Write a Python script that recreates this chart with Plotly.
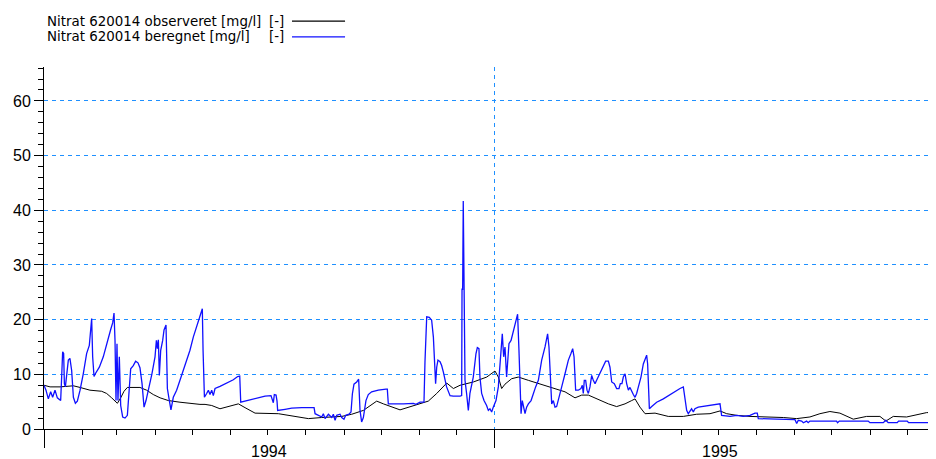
import pandas as pd
import plotly.graph_objects as go

# ---------------- data ----------------
start_date = "1994-01-01"
series_names = ["Nitrat 620014 observeret [mg/l]", "Nitrat 620014 beregnet [mg/l]"]
unit_label = "[-]"
year_labels = ["1994", "1995"]

# observed series: days since 1994-01-01 and concentration (mg/l)
obs_day = [0.0, 4.9, 13.0, 19.7, 23.8, 29.2, 37.2, 46.7, 50.7, 54.8, 59.4, 62.1, 64.8, 67.5, 77.7,
           83.1, 88.5, 94.0, 100.7, 110.1, 120.9, 126.3, 130.4, 135.8, 142.5, 149.3, 157.4, 162.8,
           170.9, 189.8, 203.3, 214.1, 224.9, 241.1, 249.2, 258.6, 269.4, 274.8, 288.3, 301.8,
           311.2, 318.0, 326.1, 331.5, 336.9, 347.7, 358.5, 365.2, 367.9, 370.6, 373.3, 378.7,
           384.1, 392.2, 400.3, 411.1, 421.9, 430.0, 435.4, 440.8, 448.9, 457.0, 463.7, 470.5,
           475.9, 478.6, 482.6, 486.7, 494.8, 505.5, 517.7, 528.5, 539.3, 547.4, 552.8, 560.9,
           571.7, 587.9, 598.7, 609.5, 620.2, 628.3, 636.4, 644.5, 655.3, 666.1, 676.9, 681.7,
           687.7, 698.5, 709.3, 714.7, 722.5]
obs_val = [8.0, 7.7, 7.7, 7.9, 7.9, 7.6, 7.1, 6.9, 6.5, 5.7, 4.7, 5.7, 6.9, 7.6, 7.6,
           7.1, 6.3, 5.7, 5.2, 4.9, 4.6, 4.5, 4.5, 4.3, 3.7, 4.1, 4.6, 3.9,
           2.9, 2.8, 2.3, 1.9, 2.1, 2.3, 2.7, 3.4, 5.1, 4.6, 3.5, 4.5,
           5.1, 6.5, 8.4, 7.4, 8.0, 8.6, 9.5, 10.6, 9.5, 7.4, 8.2, 9.2,
           9.5, 8.9, 8.3, 7.6, 6.8, 5.7, 6.2, 6.2, 5.4, 4.6, 4.1, 4.6,
           5.2, 5.5, 4.0, 2.8, 2.9, 2.3, 2.3, 2.7, 2.8, 3.3, 2.8, 2.5,
           2.3, 2.2, 2.1, 1.9, 2.2, 2.8, 3.2, 2.9, 1.8, 2.3, 2.3, 1.45,
           2.3, 2.2, 2.8, 3.0, 3.0]

# computed series: days since 1994-01-01 and concentration (mg/l)
calc_day = [0.0, 1.6, 3.5, 5.4, 7.0, 8.9, 10.8, 12.4, 13.5, 14.3, 15.1, 15.9, 16.5, 17.3, 18.4,
            19.7, 21.0, 22.4, 23.8, 25.4, 27.0, 29.2, 31.8, 34.5, 36.7, 37.8, 38.6, 39.4, 40.5,
            41.8, 44.8, 48.0, 50.7, 52.4, 54.0, 55.6, 56.7, 57.5, 58.3, 59.1, 59.9, 61.0, 62.1,
            63.7, 65.6, 67.5, 69.1, 70.2, 72.3, 74.2, 76.1, 77.7, 79.4, 81.0, 82.6, 84.7, 87.4,
            89.9, 91.0, 91.8, 92.6, 93.4, 94.5, 96.1, 97.2, 98.8, 99.9, 101.5, 102.8, 104.7,
            107.4, 110.1, 112.8, 115.5, 118.2, 120.9, 123.6, 125.0, 127.2, 128.2, 128.8, 129.9,
            131.7, 133.1, 134.4, 135.8, 137.1, 138.5, 142.5, 147.9, 153.3, 156.8, 158.5, 159.3,
            162.8, 168.2, 173.6, 179.0, 183.8, 185.7, 186.5, 187.9, 188.7, 189.2, 195.2, 200.6,
            208.7, 216.8, 218.7, 219.5, 222.2, 224.9, 226.2, 227.6, 230.3, 233.0, 234.3, 235.7,
            237.0, 239.7, 241.1, 242.9, 244.3, 247.0, 248.6, 249.7, 251.0, 253.2, 254.8, 255.9,
            257.2, 258.6, 260.7, 262.6, 265.3, 270.7, 276.9, 278.0, 278.8, 281.5, 288.3, 291.0,
            299.1, 301.2, 304.5, 307.7, 308.5, 309.9, 312.0, 313.9, 315.3, 316.1, 317.1, 318.0,
            319.0, 320.7, 322.0, 323.4, 326.0, 328.8, 331.4, 336.9, 338.2, 338.5, 339.0, 339.5,
            340.1, 340.9, 342.2, 343.6, 344.9, 347.6, 349.8, 350.9, 352.2, 353.0, 354.4, 356.3,
            358.4, 359.8, 361.1, 362.5, 363.8, 366.0, 367.9, 369.2, 371.1, 372.2, 373.3, 374.6,
            375.5, 376.5, 378.2, 380.0, 381.9, 383.5, 384.6, 385.4, 386.3, 387.3, 388.4, 389.5,
            390.8, 392.2, 394.4, 396.2, 398.1, 400.3, 403.0, 405.7, 407.0, 407.8, 408.9, 409.7,
            410.5, 411.1, 412.4, 413.8, 415.1, 416.5, 419.2, 421.9, 424.6, 426.7, 428.1, 429.2,
            430.5, 432.7, 434.8, 435.9, 436.7, 437.5, 438.6, 439.7, 440.8, 442.1, 443.5, 444.8,
            446.2, 447.5, 450.2, 452.9, 454.8, 457.0, 458.3, 459.7, 461.8, 463.7, 465.6, 466.7,
            468.0, 469.1, 470.5, 471.8, 473.2, 474.5, 475.9, 477.2, 478.6, 479.9, 481.3, 483.4,
            485.3, 486.7, 488.0, 488.8, 489.4, 490.2, 492.1, 494.8, 496.1, 501.5, 506.9, 510.9,
            515.0, 517.7, 519.0, 520.4, 521.7, 523.1, 524.4, 525.8, 527.1, 529.8, 535.2, 540.6,
            544.7, 547.4, 548.7, 555.5, 560.9, 566.3, 571.7, 575.7, 577.6, 578.4, 593.3, 608.1,
            609.5, 610.8, 613.5, 614.9, 617.5, 618.8, 620.2, 641.8, 642.6, 644.0, 667.4, 668.8,
            679.6, 681.7, 683.6, 690.9, 692.0, 699.0, 700.1, 718.7, 719.5, 721.4, 722.5]
calc_val = [8.0, 7.1, 5.5, 6.8, 5.8, 7.1, 5.7, 5.3, 5.2, 9.5, 14.1, 13.8, 8.3, 7.7, 9.5,
            12.6, 12.9, 10.7, 5.8, 4.7, 5.1, 7.1, 10.1, 13.8, 15.3, 19.3, 20.2, 13.2, 9.6,
            10.2, 11.3, 13.2, 15.6, 16.8, 18.2, 19.4, 21.2, 16.2, 5.2, 15.6, 5.2, 13.2, 4.3,
            2.2, 2.0, 2.5, 7.1, 11.0, 11.6, 12.4, 12.1, 11.2, 8.3, 4.0, 5.2, 7.1, 10.1,
            13.2, 16.2, 14.7, 16.3, 9.8, 14.4, 16.2, 18.1, 19.0, 7.4, 5.2, 3.5, 5.8,
            7.1, 8.9, 10.7, 12.6, 14.4, 16.8, 18.7, 19.9, 21.4, 22.0, 14.4, 5.8,
            6.5, 7.1, 6.3, 7.1, 6.1, 7.4, 7.8, 8.4, 9.0, 9.6, 9.7, 4.9,
            5.1, 5.5, 5.7, 6.0, 6.1, 4.8, 6.3, 6.2, 5.1, 3.4, 3.6, 3.8,
            3.9, 4.0, 3.9, 2.8, 2.5, 2.2, 2.8, 1.9, 2.7, 2.1, 2.7, 1.6,
            2.5, 2.7, 2.1, 1.8, 2.5, 2.7, 3.1, 6.4, 8.2, 8.6, 9.1, 3.4,
            1.3, 2.1, 5.2, 6.3, 6.8, 7.1, 7.3, 7.3, 4.6, 4.6, 4.5, 4.6,
            4.7, 4.5, 4.9, 4.9, 12.3, 20.5, 20.4, 19.9, 16.8, 12.3, 8.3, 11.3,
            12.6, 12.3, 11.6, 10.4, 7.7, 6.1, 6.0, 6.0, 6.1, 25.7, 25.4, 41.7,
            19.9, 8.9, 6.5, 3.4, 6.5, 9.5, 13.8, 14.9, 14.7, 9.5, 6.5, 5.2,
            4.3, 3.4, 3.7, 3.1, 4.0, 5.2, 7.7, 11.3, 17.4, 13.2, 15.0, 9.5,
            12.6, 15.6, 16.2, 17.7, 19.3, 21.0, 14.4, 7.1, 2.8, 5.2, 3.9, 2.8,
            4.0, 4.6, 5.2, 6.5, 7.7, 8.9, 12.6, 15.0, 16.2, 17.4, 15.0, 11.3,
            6.5, 4.6, 5.2, 4.0, 4.1, 5.2, 7.7, 10.1, 12.6, 13.8, 14.7, 13.2,
            7.1, 7.1, 7.4, 8.0, 6.5, 8.9, 8.9, 7.1, 6.5, 7.7, 9.8, 8.9,
            8.3, 8.9, 10.1, 11.3, 12.4, 12.4, 11.3, 8.6, 8.3, 7.4, 7.4, 8.3,
            8.3, 9.5, 10.1, 8.3, 7.1, 7.6, 6.8, 6.3, 5.8, 6.5, 7.7, 9.5,
            11.9, 12.9, 13.5, 11.9, 7.7, 3.7, 4.1, 4.6, 4.9, 5.5, 6.3, 6.8,
            7.4, 7.7, 5.9, 3.4, 2.8, 3.3, 3.7, 3.1, 3.7, 4.0, 4.2, 4.4,
            4.6, 4.6, 2.5, 2.3, 2.5, 2.3, 2.5, 2.9, 2.9, 1.9, 1.8, 1.7,
            1.0, 1.6, 1.45, 1.15, 1.45, 1.15, 1.45, 1.45, 1.15, 1.45, 1.45, 1.15,
            1.15, 1.6, 1.15, 1.15, 1.45, 1.45, 1.15, 1.15, 0.8, 1.15, 1.1]

# ---------------- figure ----------------
t0 = pd.Timestamp(start_date)
obs_x = t0 + pd.to_timedelta(obs_day, unit="D")
calc_x = t0 + pd.to_timedelta(calc_day, unit="D")
x_end = t0 + pd.to_timedelta(722.3, unit="D")

GRID = "#1E90FF"
FONT = "Liberation Sans, Arial, sans-serif"
LFONT = "DejaVu Sans, Verdana, sans-serif"

fig = go.Figure()
fig.add_trace(go.Scatter(x=obs_x, y=obs_val, mode="lines", name=series_names[0],
                         line=dict(color="#000000", width=1)))
fig.add_trace(go.Scatter(x=calc_x, y=calc_val, mode="lines", name=series_names[1],
                         line=dict(color="#1010FF", width=1.3)))

# the page body adds an 8px offset; margins compensate for it
fig.update_layout(
    width=928, height=459,
    margin=dict(l=36, r=0, t=59, b=38, autoexpand=False),
    paper_bgcolor="white", plot_bgcolor="white",
    showlegend=False,
    font=dict(family=FONT, size=15, color="#000000"),
)

fig.update_xaxes(
    type="date", range=[t0, x_end], automargin=False,
    tick0=start_date, dtick="M12", ticks="outside", ticklen=18, tickcolor="#000000", tickwidth=1,
    showticklabels=False,
    showgrid=True, gridcolor=GRID, griddash="4px,4px", gridwidth=1,
    minor=dict(tick0=start_date, dtick="M1", ticks="outside", ticklen=5,
               tickcolor="#000000", showgrid=False),
    showline=True, linecolor="#000000", linewidth=1, zeroline=False,
)
fig.update_yaxes(
    range=[0, 66.2], automargin=False,
    dtick=10, tick0=0, ticks="outside", ticklen=9, tickcolor="#000000",
    minor=dict(dtick=2, ticks="outside", ticklen=5, tickcolor="#000000", showgrid=False),
    showgrid=True, gridcolor=GRID, griddash="4px,4px", gridwidth=1,
    showline=True, linecolor="#000000", linewidth=1, zeroline=False,
    tickfont=dict(family=FONT, size=16, color="#000000"),
)

# year labels centred on each year
for yl in year_labels:
    fig.add_annotation(x=pd.Timestamp(f"{yl}-07-02"), xref="x", y=-0.061, yref="paper",
                       text=yl, showarrow=False, xanchor="center", yanchor="middle",
                       font=dict(family=FONT, size=16, color="#000000"))

# legend (text left, line sample right)
leg_rows = [(1.127, "#000000"), (1.083, "#1010FF")]
for name, (ly, col) in zip(series_names, leg_rows):
    fig.add_annotation(x=0.001, xref="paper", y=ly, yref="paper", text=name,
                       showarrow=False, xanchor="left", yanchor="middle",
                       font=dict(family=LFONT, size=13.4, color="#000000"))
    fig.add_annotation(x=0.25, xref="paper", y=ly, yref="paper", text=unit_label,
                       showarrow=False, xanchor="left", yanchor="middle",
                       font=dict(family=LFONT, size=13.4, color="#000000"))
    fig.add_shape(type="line", xref="paper", yref="paper", x0=0.278, x1=0.3375, y0=ly, y1=ly,
                  line=dict(color=col, width=1.3))

fig.write_html("out.html")
